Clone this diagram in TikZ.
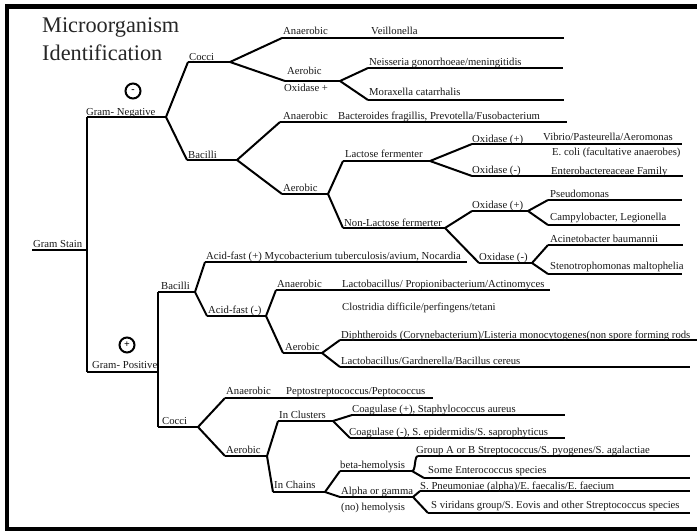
\documentclass[tikz,border=0pt]{standalone}
\usepackage{fontspec}
\setmainfont{Liberation Serif}
\begin{document}
\begin{tikzpicture}[x=1pt,y=-1pt,
  lbl/.style={font=\fontsize{10.7}{12}\selectfont, inner sep=0pt, anchor=base west, text=black!90},
  ttl/.style={font=\fontsize{22.3}{25}\selectfont, inner sep=0pt, anchor=base west, text=black!85},
  br/.style={line width=2pt, line join=round},
  brk/.style={line width=2.8pt, line join=round},
  frm/.style={fill=black},
  sgn/.style={draw, circle, line width=2pt, minimum size=15pt, inner sep=0pt,
    font=\bfseries\fontsize{10}{10}\selectfont}]

% horizontal bar: style, name, x from, x to, y; defines (name-s) and (name-e)
\newcommand\tbar[5][br]{%
  \coordinate (#2-s) at (#3,#5);
  \coordinate (#2-e) at (#4,#5);
  \draw[#1] (#2-s) -- (#2-e);}

\useasboundingbox (0,0) rectangle (697,531);
\fill[white] (0,0) rectangle (697,531);

% frame
\fill[frm] (5,4) rectangle (697,8.5);
\fill[frm] (5,4) rectangle (9.3,531);
\fill[frm] (5,526.5) rectangle (697,531);

% title
\node[ttl] (title1) at (42,32) {Microorganism};
\node[ttl] (title2) at (42,60) {Identification};

% root
\tbar[brk]{gs}{32}{86}{250}
\tbar{gn}{87}{166}{117}
\tbar[brk]{gp}{87}{157}{372}
\draw[br] (gn-s) -- (gp-s);
\node[lbl] (tgs) at (33,247) {Gram Stain};
\node[lbl] (tgn) at (86,115) {Gram- Negative};
\node[lbl] (tgp) at (92,368) {Gram- Positive};
\node[sgn] (minus) at (133,91) {-};
\node[sgn] (plus) at (127,345) {+};

% ---------- Gram negative ----------
\tbar{nc}{188}{230}{62}
\tbar{nb}{187}{237}{160}
\draw[br] (gn-e) -- (nc-s);
\draw[br] (gn-e) -- (nb-s);
\node[lbl] (tnc) at (189,60.5) {Cocci};
\node[lbl] (tnb) at (188,158) {Bacilli};

% negative cocci
\tbar{nca}{282}{564}{38}
\tbar{ncb}{285}{340}{81}
\draw[br] (nc-e) -- (nca-s);
\draw[br] (nc-e) -- (ncb-s);
\node[lbl] (tnca) at (283,34) {Anaerobic};
\node[lbl] (tvei) at (371,34) {Veillonella};
\node[lbl] (tncb) at (287,74) {Aerobic};
\node[lbl] (tox) at (284,91.5) {Oxidase +};
\tbar{nei}{368}{563}{68}
\tbar[brk]{mor}{368}{564}{100}
\draw[br] (ncb-e) -- (nei-s);
\draw[br] (ncb-e) -- (mor-s);
\node[lbl] (tnei) at (369,65) {Neisseria gonorrhoeae/meningitidis};
\node[lbl] (tmor) at (369,95) {Moraxella catarrhalis};

% negative bacilli
\tbar{nba}{280}{567}{122}
\tbar{nbb}{282}{328}{194}
\draw[br] (nb-e) -- (nba-s);
\draw[br] (nb-e) -- (nbb-s);
\node[lbl] (tnba) at (283,119) {Anaerobic};
\node[lbl] (tbac) at (338,119) {Bacteroides fragillis, Prevotella/Fusobacterium};
\node[lbl] (tnbb) at (283,191) {Aerobic};

\tbar{lf}{343}{430}{161}
\tbar{nlf}{343}{445}{228}
\draw[br] (nbb-e) -- (lf-s);
\draw[br] (nbb-e) -- (nlf-s);
\node[lbl] (tlf) at (345,157) {Lactose fermenter};
\node[lbl] (tnlf) at (344,226) {Non-Lactose fermerter};

\tbar{lfp}{472}{682}{144}
\tbar{lfm}{472}{683}{176}
\draw[br] (lf-e) -- (lfp-s);
\draw[br] (lf-e) -- (lfm-s);
\node[lbl] (tlfp) at (472,142) {Oxidase (+)};
\node[lbl] (tvib) at (543,140) {Vibrio/Pasteurella/Aeromonas};
\node[lbl] (tecoli) at (552,155) {E. coli (facultative anaerobes)};
\node[lbl] (tlfm) at (472,173) {Oxidase (-)};
\node[lbl] (tent) at (551,174) {Enterobactereaceae Family};

\tbar{nlp}{472}{528}{211}
\tbar{nlm}{479}{532}{263}
\draw[br] (nlf-e) -- (nlp-s);
\draw[br] (nlf-e) -- (nlm-s);
\node[lbl] (tnlp) at (472,208) {Oxidase (+)};
\node[lbl] (tnlm) at (479,260) {Oxidase (-)};

\tbar{pse}{548}{682}{200}
\tbar{cam}{548}{680}{225}
\draw[br] (nlp-e) -- (pse-s);
\draw[br] (nlp-e) -- (cam-s);
\node[lbl] (tpse) at (550,197) {Pseudomonas};
\node[lbl] (tcam) at (550,220) {Campylobacter, Legionella};

\tbar[brk]{aci}{548}{683}{245}
\tbar[brk]{ste}{548}{682}{274}
\draw[br] (nlm-e) -- (aci-s);
\draw[br] (nlm-e) -- (ste-s);
\node[lbl] (taci) at (550,242) {Acinetobacter baumannii};
\node[lbl] (tste) at (550,269) {Stenotrophomonas maltophelia};

% ---------- Gram positive ----------
\tbar{pb}{158}{195}{292}
\tbar{pc}{158}{198}{427}
\draw[brk] (pb-s) -- (pc-s);
\node[lbl] (tpb) at (161,289) {Bacilli};
\node[lbl] (tpc) at (162,424) {Cocci};

% positive bacilli
\tbar{afp}{205}{467}{262}
\tbar{afm}{207}{266}{316}
\draw[br] (pb-e) -- (afp-s);
\draw[br] (pb-e) -- (afm-s);
\node[lbl] (tafp) at (206,259) {Acid-fast (+) Mycobacterium tuberculosis/avium, Nocardia};
\node[lbl] (tafm) at (208,313) {Acid-fast (-)};

\tbar{afa}{276}{550}{290}
\tbar{afb}{283}{322}{353}
\draw[br] (afm-e) -- (afa-s);
\draw[br] (afm-e) -- (afb-s);
\node[lbl] (tafa) at (277,287) {Anaerobic};
\node[lbl] (tlpa) at (342,287) {Lactobacillus/ Propionibacterium/Actinomyces};
\node[lbl] (tclo) at (342,310) {Clostridia difficile/perfingens/tetani};
\node[lbl] (tafb) at (285,350) {Aerobic};

\tbar{dip}{340}{697}{340}
\tbar{lac}{340}{690}{367}
\draw[br] (afb-e) -- (dip-s);
\draw[br] (afb-e) -- (lac-s);
\node[lbl] (tdip) at (341,338) {Diphtheroids (Corynebacterium)/Listeria monocytogenes(non spore forming rods};
\node[lbl] (tlac) at (341,364) {Lactobacillus/Gardnerella/Bacillus cereus};

% positive cocci
\tbar{pca}{225}{433}{398}
\tbar{pcb}{225}{267}{456}
\draw[br] (pc-e) -- (pca-s);
\draw[br] (pc-e) -- (pcb-s);
\node[lbl] (tpca) at (226,394) {Anaerobic};
\node[lbl] (tpep) at (286,394) {Peptostreptococcus/Peptococcus};
\node[lbl] (tpcb) at (226,453) {Aerobic};

\tbar{clu}{278}{333}{421}
\tbar{cha}{273}{325}{492}
\draw[br] (pcb-e) -- (clu-s);
\draw[br] (pcb-e) -- (cha-s);
\node[lbl] (tclu) at (279,418) {In Clusters};
\node[lbl] (tcha) at (274,488.5) {In Chains};

\tbar{cop}{352}{565}{415}
\tbar{com}{350}{565}{438}
\draw[br] (clu-e) -- (cop-s);
\draw[br] (clu-e) -- (com-s);
\node[lbl] (tcop) at (352,412.5) {Coagulase (+), Staphylococcus aureus};
\node[lbl] (tcom) at (349,435) {Coagulase (-), S. epidermidis/S. saprophyticus};

\tbar{bet}{340}{412}{471}
\tbar{alp}{340}{413}{497}
\draw[br] (cha-e) -- (bet-s);
\draw[br] (cha-e) -- (alp-s);
\node[lbl] (tbet) at (340,468) {beta-hemolysis};
\node[lbl] (talp) at (341,494) {Alpha or gamma};
\node[lbl] (tnoh) at (341,510) {(no) hemolysis};

\tbar{grp}{418}{690}{456}
\tbar{som}{424}{690}{478}
\draw[br] (bet-e) .. controls (416,471) and (414,456) .. (grp-s);
\draw[br] (bet-e) -- (som-s);
\node[lbl] (tgrp) at (416,453) {Group A or B Streptococcus/S. pyogenes/S. agalactiae};
\node[lbl] (tsom) at (428,473) {Some Enterococcus species};

\tbar{pne}{420}{690}{491}
\tbar[brk]{vir}{428}{690}{513}
\draw[br] (alp-e) -- (pne-s);
\draw[br] (alp-e) -- (vir-s);
\node[lbl] (tpne) at (420,489) {S. Pneumoniae (alpha)/E. faecalis/E. faecium};
\node[lbl] (tvir) at (431,508.5) {S viridans group/S. Eovis and other Streptococcus species};
\end{tikzpicture}
\end{document}
